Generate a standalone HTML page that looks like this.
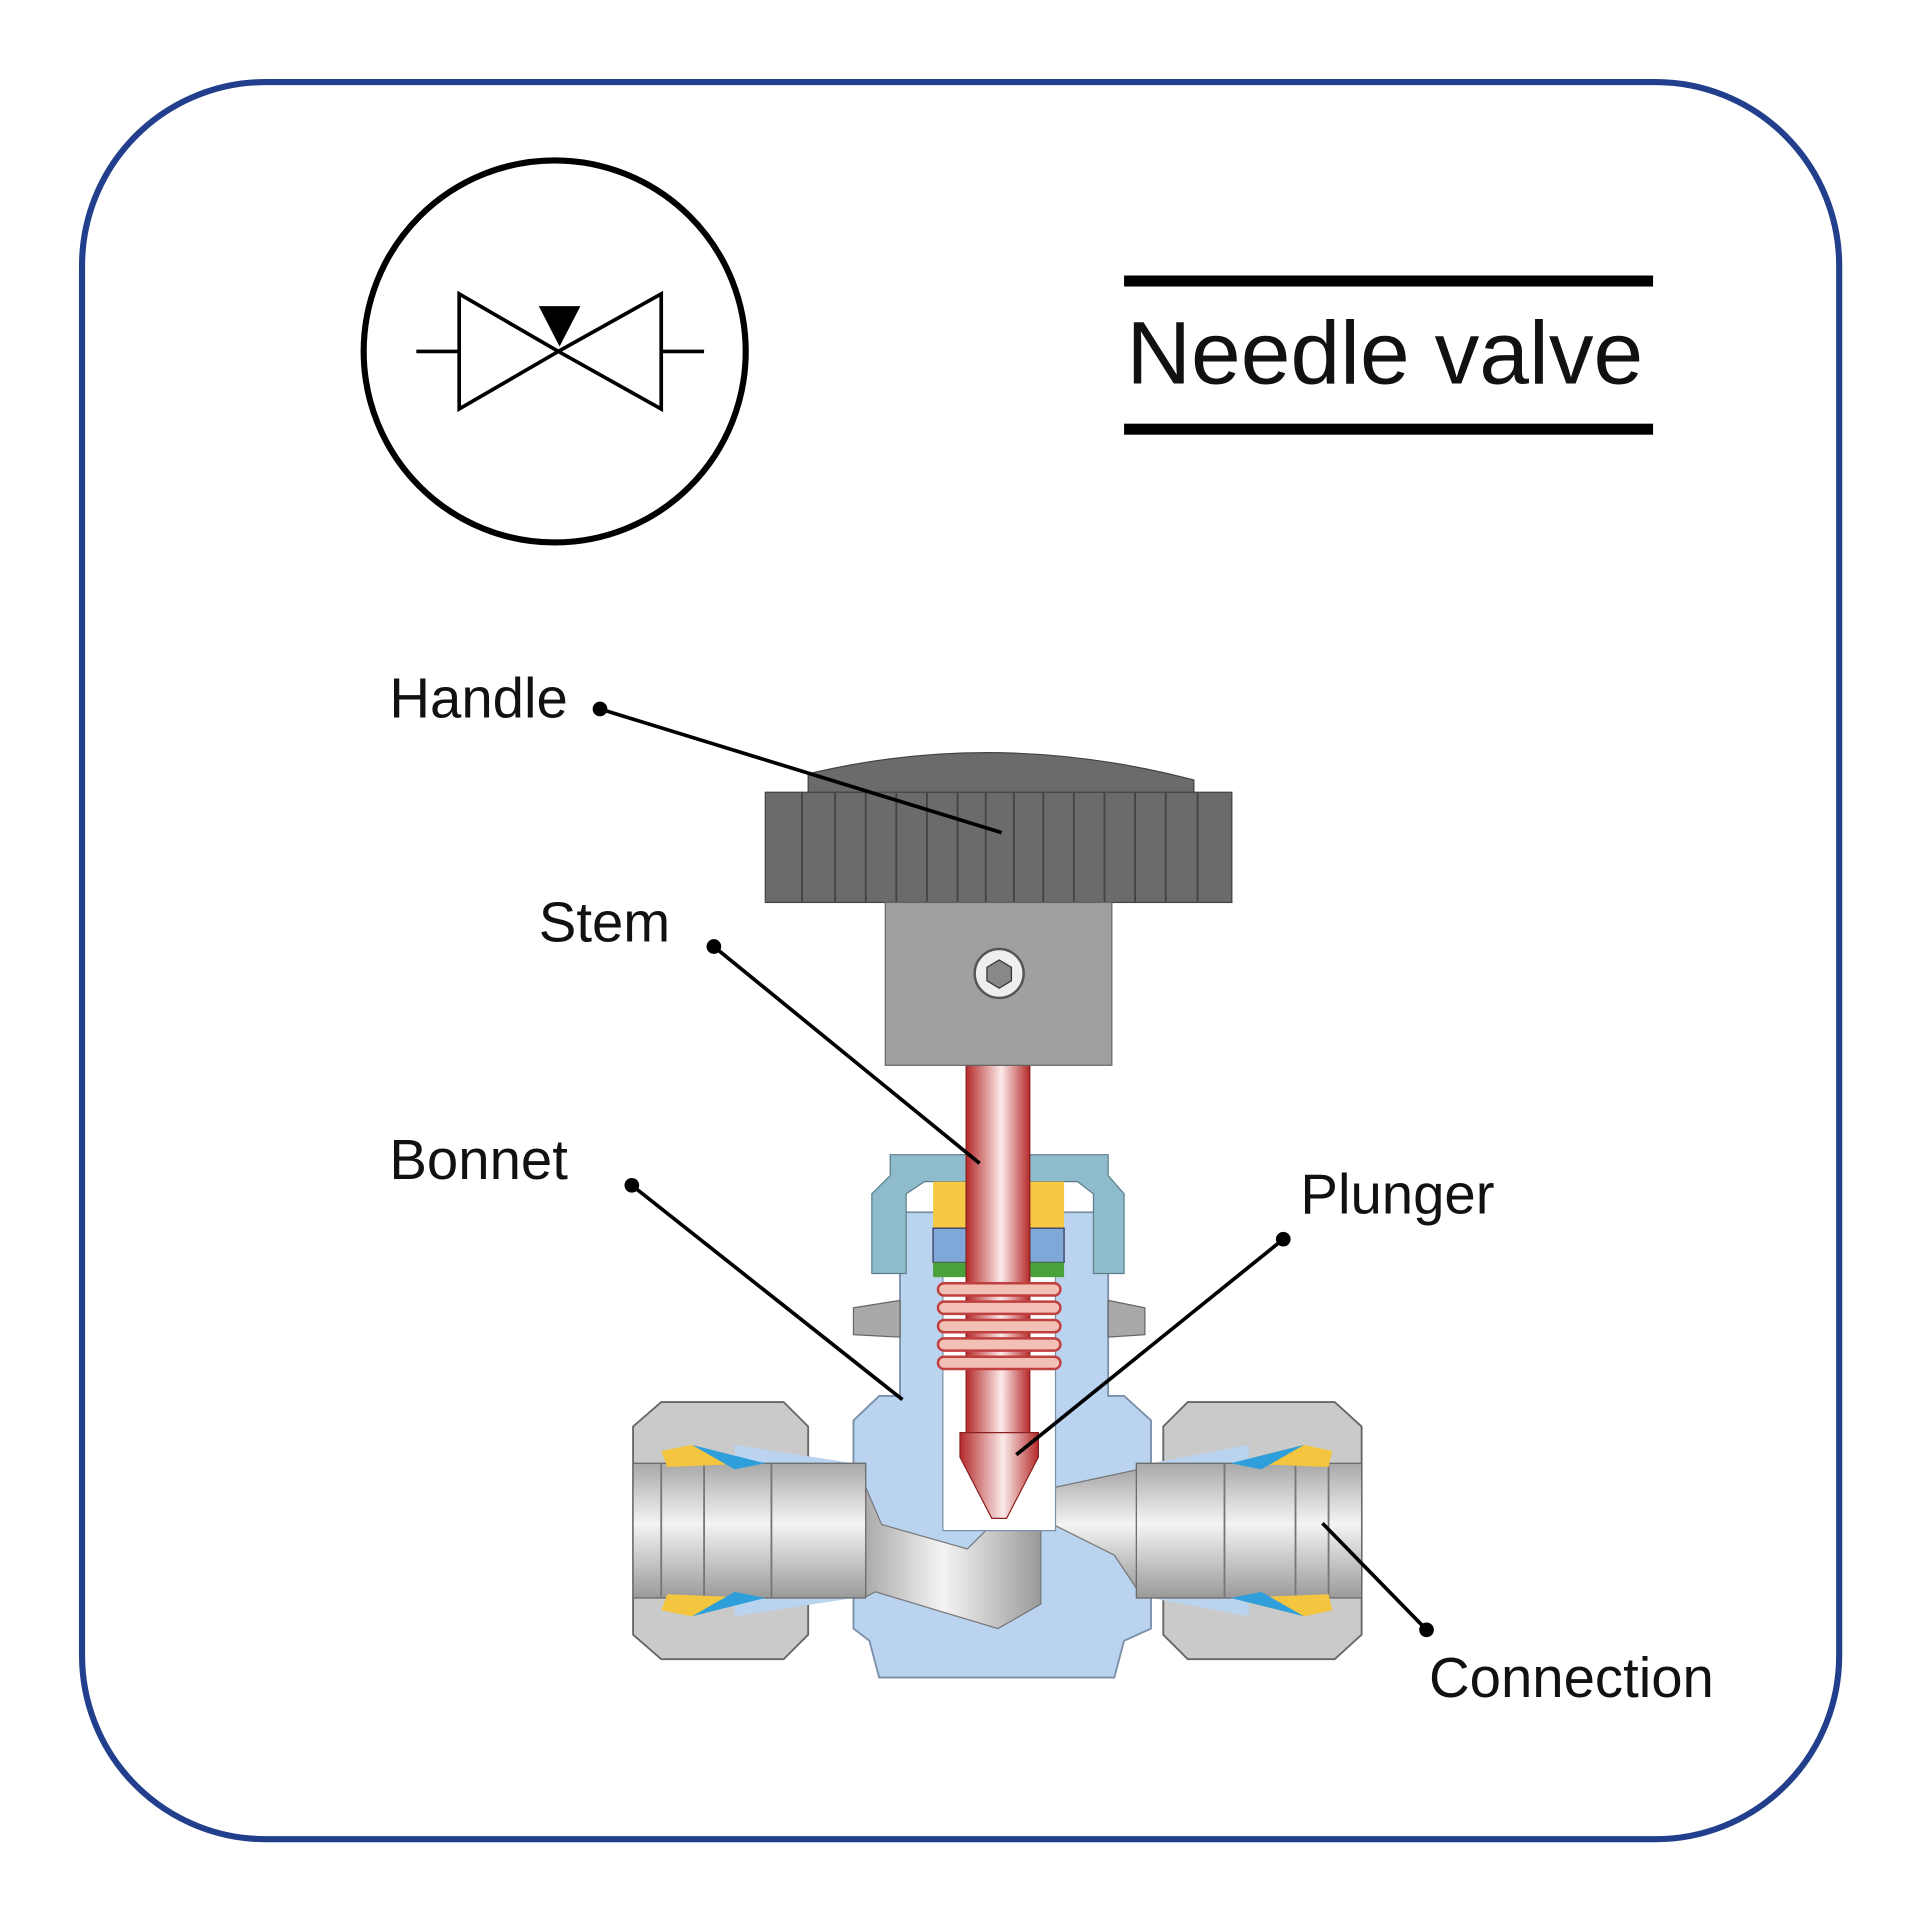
<!DOCTYPE html>
<html><head><meta charset="utf-8"><style>
html,body{margin:0;padding:0;background:#fff;}
svg{display:block;}
text{font-family:"Liberation Sans",sans-serif;fill:#111;}
</style></head><body>
<svg width="1920" height="1920" viewBox="0 0 1568 1568" xmlns="http://www.w3.org/2000/svg">
<defs>
<linearGradient id="red" x1="0" x2="1" y1="0" y2="0">
<stop offset="0" stop-color="#b52a2a"/><stop offset="0.55" stop-color="#fbeaea"/><stop offset="1" stop-color="#b52a2a"/>
</linearGradient>
<linearGradient id="pipe" x1="0" x2="0" y1="0" y2="1">
<stop offset="0" stop-color="#a8a8a8"/><stop offset="0.45" stop-color="#f4f4f4"/><stop offset="1" stop-color="#9a9a9a"/>
</linearGradient>
<linearGradient id="pipeV" x1="0" x2="1" y1="0" y2="0">
<stop offset="0" stop-color="#a8a8a8"/><stop offset="0.45" stop-color="#f4f4f4"/><stop offset="1" stop-color="#9a9a9a"/>
</linearGradient>
</defs>
<rect x="67" y="67" width="1435" height="1435" rx="150" fill="#fff" stroke="#213f8c" stroke-width="5"/>
<circle cx="453" cy="287" r="156" fill="none" stroke="#000" stroke-width="5"/>
<g fill="none" stroke="#000" stroke-width="3">
<line x1="340" y1="287" x2="375" y2="287"/><line x1="540" y1="287" x2="575" y2="287"/>
<polygon points="375,240 375,334 456,287"/><polygon points="540,240 540,334 456,287"/>
</g>
<polygon points="440,250 474,250 457,283" fill="#000"/>
<rect x="918" y="225" width="432" height="9" fill="#000"/>
<rect x="918" y="346" width="432" height="9" fill="#000"/>
<text x="920" y="313" font-size="73">Needle valve</text>
<path d="M517,1165 L540,1145 L640,1145 L660,1165 L660,1335 L640,1355 L540,1355 L517,1335Z" fill="#cacaca" stroke="#666" stroke-width="1.5"/>
<path d="M950,1165 L970,1145 L1090,1145 L1112,1165 L1112,1335 L1090,1355 L970,1355 L950,1335Z" fill="#cacaca" stroke="#666" stroke-width="1.5"/>
<path d="M697,1160 L718,1140 L735,1140 L735,990 L905,990 L905,1140 L918,1140 L940,1160 L940,1330 L918,1340 L910,1370 L718,1370 L710,1340 L697,1330Z" fill="#bad3ef" stroke="#7a8fa8" stroke-width="1.5"/>
<path d="M600,1180 L697,1195 L697,1305 L600,1320Z" fill="#bad3ef"/>
<path d="M940,1195 L1020,1180 L1020,1320 L940,1305Z" fill="#bad3ef"/>
<path d="M697,1068 L735,1062 L735,1092 L697,1090Z" fill="#a9a9a9" stroke="#666"/>
<path d="M905,1062 L935,1068 L935,1090 L905,1092Z" fill="#a9a9a9" stroke="#666"/>
<path d="M705,1210 L720,1245 L790,1265 L810,1245 L850,1245 L850,1310 L815,1330 L715,1300 L705,1305Z" fill="url(#pipeV)" stroke="#777"/>
<path d="M860,1215 L930,1200 L930,1300 L910,1270 L860,1245Z" fill="url(#pipe)" stroke="#777"/>
<rect x="517" y="1195" width="190" height="110" fill="url(#pipe)" stroke="#666"/>
<rect x="928" y="1195" width="184" height="110" fill="url(#pipe)" stroke="#666"/>
<g stroke="#777" stroke-width="1.5"><line x1="540" y1="1195" x2="540" y2="1305"/><line x1="575" y1="1195" x2="575" y2="1305"/><line x1="630" y1="1195" x2="630" y2="1305"/>
<line x1="1000" y1="1195" x2="1000" y2="1305"/><line x1="1058" y1="1195" x2="1058" y2="1305"/><line x1="1085" y1="1195" x2="1085" y2="1305"/></g>
<path d="M540,1185 L565,1180 L620,1195 L545,1198Z" fill="#f4c53e"/><path d="M565,1180 L625,1195 L600,1200Z" fill="#2f9fdc"/>
<path d="M540,1315 L565,1320 L620,1305 L545,1302Z" fill="#f4c53e"/><path d="M565,1320 L625,1305 L600,1300Z" fill="#2f9fdc"/>
<path d="M1088,1185 L1065,1180 L1005,1195 L1085,1198Z" fill="#f4c53e"/><path d="M1065,1180 L1005,1195 L1030,1200Z" fill="#2f9fdc"/>
<path d="M1088,1315 L1065,1320 L1005,1305 L1085,1302Z" fill="#f4c53e"/><path d="M1065,1320 L1005,1305 L1030,1300Z" fill="#2f9fdc"/>
<rect x="770" y="1040" width="92" height="210" fill="#fff" stroke="#7a8fa8"/>
<path d="M727,943 L905,943 L905,960 L918,975 L918,1040 L893,1040 L893,975 L880,965 L755,965 L740,975 L740,1040 L712,1040 L712,975 L727,960Z" fill="#8fbccc" stroke="#5c7e8a"/>
<rect x="762" y="965" width="28" height="38" fill="#f6c945"/><rect x="841" y="965" width="28" height="38" fill="#f6c945"/>
<rect x="762" y="1003" width="28" height="28" fill="#7ea8d8" stroke="#335"/><rect x="841" y="1003" width="28" height="28" fill="#7ea8d8" stroke="#335"/>
<rect x="762" y="1031" width="28" height="12" fill="#4aa33a"/><rect x="841" y="1031" width="28" height="12" fill="#4aa33a"/>
<rect x="789" y="870" width="52" height="300" fill="url(#red)" stroke="#8a2020"/>
<path d="M784,1170 L848,1170 L848,1190 L822,1240 L810,1240 L784,1190Z" fill="url(#red)" stroke="#8a2020"/>
<g fill="#f2c0b5" stroke="#c04040" stroke-width="2">
<rect x="766" y="1048" width="100" height="10" rx="5"/><rect x="766" y="1063" width="100" height="10" rx="5"/>
<rect x="766" y="1078" width="100" height="10" rx="5"/><rect x="766" y="1093" width="100" height="10" rx="5"/>
<rect x="766" y="1108" width="100" height="10" rx="5"/></g>
<path d="M660,632 Q815,595 975,637 L975,648 L660,648Z" fill="#6b6b6b" stroke="#444"/>
<rect x="625" y="647" width="381" height="90" fill="#6b6b6b" stroke="#444"/>
<g stroke="#444" stroke-width="1.5">
<line x1="655" y1="647" x2="655" y2="737"/><line x1="682" y1="647" x2="682" y2="737"/><line x1="707" y1="647" x2="707" y2="737"/><line x1="732" y1="647" x2="732" y2="737"/><line x1="757" y1="647" x2="757" y2="737"/><line x1="782" y1="647" x2="782" y2="737"/><line x1="805" y1="647" x2="805" y2="737"/><line x1="828" y1="647" x2="828" y2="737"/><line x1="852" y1="647" x2="852" y2="737"/><line x1="877" y1="647" x2="877" y2="737"/><line x1="902" y1="647" x2="902" y2="737"/><line x1="927" y1="647" x2="927" y2="737"/><line x1="952" y1="647" x2="952" y2="737"/><line x1="978" y1="647" x2="978" y2="737"/></g>
<rect x="723" y="737" width="185" height="133" fill="#a0a0a0" stroke="#666"/>
<circle cx="816" cy="795" r="20" fill="#eee" stroke="#555" stroke-width="2"/>
<polygon points="816,784 826,790 826,801 816,807 806,801 806,790" fill="#888" stroke="#333"/>
<g font-size="46">
<text x="318" y="586">Handle</text><text x="440" y="769">Stem</text><text x="318" y="963">Bonnet</text>
<text x="1062" y="991">Plunger</text><text x="1167" y="1386">Connection</text></g>
<g stroke="#000" stroke-width="3">
<line x1="490" y1="579" x2="818" y2="680"/><line x1="583" y1="773" x2="800" y2="950"/>
<line x1="516" y1="968" x2="737" y2="1143"/><line x1="1048" y1="1012" x2="830" y2="1188"/>
<line x1="1165" y1="1331" x2="1080" y2="1244"/></g>
<g fill="#000"><circle cx="490" cy="579" r="6"/><circle cx="583" cy="773" r="6"/><circle cx="516" cy="968" r="6"/><circle cx="1048" cy="1012" r="6"/><circle cx="1165" cy="1331" r="6"/></g>
</svg>
</body></html>
